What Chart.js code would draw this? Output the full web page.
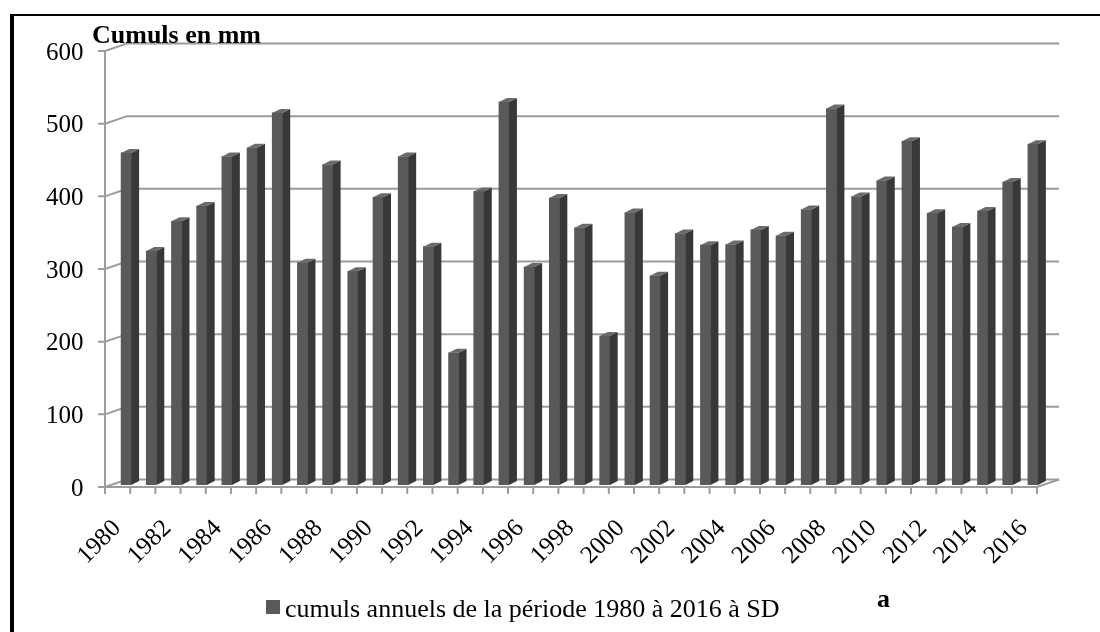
<!DOCTYPE html>
<html>
<head>
<meta charset="utf-8">
<script src="https://cdn.jsdelivr.net/npm/chart.js@4/dist/chart.umd.min.js"></script>
<style>
  body { margin: 0; background: #fff; }
  #wrap { width: 1100px; height: 632px; }
</style>
</head>
<body>
<div id="wrap"><canvas id="chart" width="1100" height="632"></canvas></div>
<script>
// Annual rainfall totals (mm)
const years = ['1980','1981','1982','1983','1984','1985','1986','1987','1988','1989',
  '1990','1991','1992','1993','1994','1995','1996','1997','1998','1999',
  '2000','2001','2002','2003','2004','2005','2006','2007','2008','2009',
  '2010','2011','2012','2013','2014','2015','2016'];
const cumuls = [457, 322, 363, 384, 452, 464, 512, 306, 441, 294,
  396, 452, 328, 182, 404, 527, 300, 395, 354, 205,
  375, 288, 346, 330, 331, 351, 343, 379, 518, 397,
  419, 473, 374, 355, 377, 417, 469];
const yTicks = [0, 100, 200, 300, 400, 500, 600];
const seriesLabel = 'cumuls annuels de la période 1980 à 2016 à SD';
const axisTitle = 'Cumuls en mm';
const panelTag = 'a';

const FONT = '"Liberation Serif", "Times New Roman", serif';
const FRONT = '#595959', SIDE = '#383838', TOP = '#6a6a6a', GRID = '#9c9c9c';
// offsets of the front plane and back wall relative to the bars' plane
const front = { dx: -8.5, dy: 2 };
const back = { dx: 13.5, dy: -5.5 };
const side = { w: 8, rise: 4 };

const frame3d = {
  id: 'frame3d',
  beforeDatasetsDraw(chart) {
    const ctx = chart.ctx, a = chart.chartArea;
    const y = chart.scales.y, x = chart.scales.x;
    ctx.save();
    ctx.strokeStyle = GRID;
    ctx.lineWidth = 2;
    const fx = a.left + front.dx;
    // back wall gridlines with their diagonals from the front axis
    yTicks.forEach(v => {
      const py = y.getPixelForValue(v);
      ctx.beginPath();
      ctx.moveTo(fx - 7, py + front.dy);
      ctx.lineTo(fx, py + front.dy);
      ctx.lineTo(a.left + back.dx, py + back.dy);
      ctx.lineTo(a.right + back.dx, py + back.dy);
      ctx.stroke();
    });
    // front value axis
    ctx.beginPath();
    ctx.moveTo(fx, y.getPixelForValue(600) + front.dy);
    ctx.lineTo(fx, y.getPixelForValue(0) + front.dy);
    ctx.stroke();
    // floor front edge, right edge and category ticks
    const fy = y.getPixelForValue(0) + front.dy;
    ctx.beginPath();
    ctx.moveTo(fx, fy);
    ctx.lineTo(a.right + front.dx, fy);
    ctx.lineTo(a.right + back.dx, y.getPixelForValue(0) + back.dy);
    ctx.stroke();
    const pitch = (a.right - a.left) / years.length;
    for (let i = 0; i <= years.length; i++) {
      const bx = x.getPixelForValue(Math.min(i, years.length - 1)) + (i === years.length ? pitch / 2 : -pitch / 2) + front.dx;
      ctx.beginPath();
      ctx.moveTo(bx, fy);
      ctx.lineTo(bx, fy + 7);
      ctx.stroke();
    }
    ctx.restore();
  },
  afterDatasetsDraw(chart) {
    const ctx = chart.ctx;
    const meta = chart.getDatasetMeta(0);
    ctx.save();
    meta.data.forEach(bar => {
      const p = bar.getProps(['x', 'y', 'base', 'width'], true);
      const r = p.x + p.width / 2, l = p.x - p.width / 2;
      // side face
      ctx.fillStyle = SIDE;
      ctx.beginPath();
      ctx.moveTo(r, p.y);
      ctx.lineTo(r + side.w, p.y - side.rise);
      ctx.lineTo(r + side.w, p.base - side.rise);
      ctx.lineTo(r, p.base);
      ctx.closePath();
      ctx.fill();
      // top face
      ctx.fillStyle = TOP;
      ctx.beginPath();
      ctx.moveTo(l, p.y);
      ctx.lineTo(r, p.y);
      ctx.lineTo(r + side.w, p.y - side.rise);
      ctx.lineTo(l + side.w, p.y - side.rise);
      ctx.closePath();
      ctx.fill();
    });
    ctx.restore();
  },
  afterDraw(chart) {
    const ctx = chart.ctx;
    ctx.save();
    // outer frame (top and left edges only visible)
    ctx.fillStyle = '#000';
    ctx.fillRect(10, 14, 1090, 2);
    ctx.fillRect(10, 14, 4, 618);
    // axis title
    ctx.font = 'bold 26px ' + FONT;
    ctx.textBaseline = 'alphabetic';
    ctx.fillText(axisTitle, 92, 43);
    // legend
    ctx.fillStyle = FRONT;
    ctx.fillRect(266, 600, 14, 14);
    ctx.fillStyle = '#000';
    ctx.font = '26px ' + FONT;
    ctx.fillText(seriesLabel, 285, 617);
    ctx.font = 'bold 26px ' + FONT;
    ctx.fillText(panelTag, 877, 607);
    ctx.restore();
  }
};

new Chart(document.getElementById('chart'), {
  type: 'bar',
  data: {
    labels: years,
    datasets: [{
      label: seriesLabel,
      data: cumuls,
      backgroundColor: FRONT,
      borderWidth: 0,
      barThickness: 10
    }]
  },
  options: {
    responsive: false,
    animation: false,
    layout: { autoPadding: false, padding: { left: 20, right: 54.5, top: 49, bottom: 0 } },
    plugins: { legend: { display: false }, tooltip: { enabled: false } },
    scales: {
      x: {
        grid: { display: false },
        border: { display: false },
        afterFit: s => { s.height = 632 - 485; },
        ticks: {
          autoSkip: false,
          minRotation: 45,
          maxRotation: 45,
          padding: 21,
          labelOffset: -9,
          color: '#000',
          font: { family: FONT, size: 25 },
          callback: (v, i) => (i % 2 === 0 ? years[i] : '')
        }
      },
      y: {
        min: 0,
        max: 600,
        grid: { display: false, drawTicks: false },
        border: { display: false },
        afterFit: s => { s.width = 113.5 - 20; },
        ticks: {
          stepSize: 100,
          padding: 30,
          labelOffset: 4,
          color: '#000',
          font: { family: FONT, size: 25 }
        }
      }
    }
  },
  plugins: [frame3d]
});
</script>
</body>
</html>
